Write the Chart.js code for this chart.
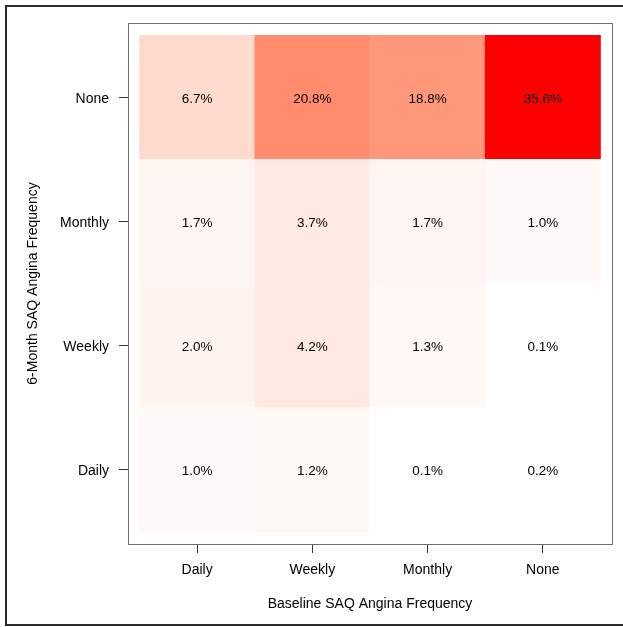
<!DOCTYPE html>
<html>
<head>
<meta charset="utf-8">
<script src="https://cdn.jsdelivr.net/npm/chart.js@4/dist/chart.umd.min.js"></script>
<style>
  html, body { margin: 0; padding: 0; background: #fff; overflow: hidden; }
  canvas { display: block; }
</style>
</head>
<body>
<canvas id="c" width="623" height="627"></canvas>
<script>
// Frequency levels: baseline on the x axis (left to right), 6-month on the y axis (bottom to top)
const baselineLevels = ['Daily', 'Weekly', 'Monthly', 'None'];
const followupLevels = ['Daily', 'Weekly', 'Monthly', 'None'];

// Percent of patients in each 6-month level, ordered by baseline level
const pctDaily   = [1.0, 1.2, 0.1, 0.2];
const pctWeekly  = [2.0, 4.2, 1.3, 0.1];
const pctMonthly = [1.7, 3.7, 1.7, 1.0];
const pctNone    = [6.7, 20.8, 18.8, 35.6];

const rows = [pctDaily, pctWeekly, pctMonthly, pctNone];
const maxPct = Math.max(...rows.flat());

// White-to-red ramp interpolated in CIE Lab
function srgbToLinear(c) { c /= 255; return c <= 0.04045 ? c / 12.92 : Math.pow((c + 0.055) / 1.055, 2.4); }
function linearToSrgb(c) { c = Math.max(0, Math.min(1, c)); return 255 * (c <= 0.0031308 ? 12.92 * c : 1.055 * Math.pow(c, 1 / 2.4) - 0.055); }
const WX = 0.95047, WY = 1.0, WZ = 1.08883;
function rgbToLab([r, g, b]) {
  const R = srgbToLinear(r), G = srgbToLinear(g), B = srgbToLinear(b);
  const X = (0.4124 * R + 0.3576 * G + 0.1805 * B) / WX;
  const Y = (0.2126 * R + 0.7152 * G + 0.0722 * B) / WY;
  const Z = (0.0193 * R + 0.1192 * G + 0.9505 * B) / WZ;
  const f = t => t > 0.008856 ? Math.cbrt(t) : 7.787 * t + 16 / 116;
  const fx = f(X), fy = f(Y), fz = f(Z);
  return [116 * fy - 16, 500 * (fx - fy), 200 * (fy - fz)];
}
function labToRgb([L, a, b]) {
  const fy = (L + 16) / 116, fx = fy + a / 500, fz = fy - b / 200;
  const inv = t => t * t * t > 0.008856 ? t * t * t : (t - 16 / 116) / 7.787;
  const X = inv(fx) * WX, Y = inv(fy) * WY, Z = inv(fz) * WZ;
  const R = 3.2406 * X - 1.5372 * Y - 0.4986 * Z;
  const G = -0.9689 * X + 1.8758 * Y + 0.0415 * Z;
  const B = 0.0557 * X - 0.2040 * Y + 1.0570 * Z;
  return [linearToSrgb(R), linearToSrgb(G), linearToSrgb(B)].map(Math.round);
}
const labLow = rgbToLab([255, 255, 255]);
const labHigh = rgbToLab([255, 0, 0]);
function heat(v) {
  const t = v / maxPct;
  const lab = labLow.map((c, i) => c + (labHigh[i] - c) * t);
  const [r, g, b] = labToRgb(lab);
  return `rgb(${r},${g},${b})`;
}

// One floating-bar dataset per 6-month level; each bar spans one row of the grid
const datasets = rows.map((vals, r) => ({
  label: followupLevels[r],
  data: vals.map((v, c) => ({ x: c + 1, y: [r + 0.5, r + 1.5], pct: v })),
  backgroundColor: vals.map(heat),
  borderWidth: 0,
  grouped: false,
  barPercentage: 1,
  categoryPercentage: 1
}));

const FONT = "'Liberation Sans', Arial, Helvetica, sans-serif";

const cellLabels = {
  id: 'cellLabels',
  afterDatasetsDraw(chart) {
    const ctx = chart.ctx;
    ctx.save();
    ctx.font = `13.5px ${FONT}`;
    ctx.fillStyle = '#000';
    ctx.textAlign = 'center';
    ctx.textBaseline = 'middle';
    chart.data.datasets.forEach((ds, di) => {
      chart.getDatasetMeta(di).data.forEach((el, i) => {
        const cy = (el.y + el.base) / 2 + 2;
        ctx.fillText(ds.data[i].pct.toFixed(1) + '%', el.x, cy);
      });
    });
    ctx.restore();
  }
};

const plotBox = {
  id: 'plotBox',
  afterDraw(chart) {
    const { left, top, right, bottom } = chart.chartArea;
    const ctx = chart.ctx;
    ctx.save();
    ctx.strokeStyle = '#6e6e6e';
    ctx.lineWidth = 1;
    ctx.strokeRect(Math.round(left) + 0.5, Math.round(top) + 0.5, Math.round(right - left), Math.round(bottom - top));
    // outer panel frame
    ctx.strokeStyle = '#2b2b2b';
    ctx.lineWidth = 2;
    ctx.beginPath();
    ctx.moveTo(chart.width + 5, 6);
    ctx.lineTo(6, 6);
    ctx.lineTo(6, 625);
    ctx.lineTo(chart.width + 5, 625);
    ctx.stroke();
    ctx.restore();
  }
};

new Chart(document.getElementById('c'), {
  type: 'bar',
  data: { datasets },
  options: {
    responsive: false,
    animation: false,
    layout: { padding: { top: 23, right: 11, left: 0, bottom: 0 } },
    plugins: { legend: { display: false }, tooltip: { enabled: false } },
    scales: {
      x: {
        type: 'linear',
        min: 0.4,
        max: 4.6,
        offset: false,
        afterBuildTicks: s => { s.ticks = baselineLevels.map((_, i) => ({ value: i + 1 })); },
        afterFit: s => { s.height = 83; },
        ticks: {
          callback: v => baselineLevels[v - 1],
          font: { family: FONT, size: 14 },
          color: '#000',
          padding: 9,
          maxRotation: 0,
          autoSkip: false
        },
        grid: { offset: false, drawOnChartArea: false, drawTicks: true, tickLength: 9, color: '#333' },
        border: { display: false },
        title: {
          display: true,
          text: 'Baseline SAQ Angina Frequency',
          font: { family: FONT, size: 14 },
          color: '#000',
          padding: { top: 4, bottom: 14 }
        }
      },
      y: {
        type: 'linear',
        min: 0.4,
        max: 4.6,
        afterBuildTicks: s => { s.ticks = followupLevels.map((_, i) => ({ value: i + 1 })); },
        afterFit: s => { s.width = 128; },
        ticks: {
          callback: v => followupLevels[v - 1],
          font: { family: FONT, size: 14 },
          color: '#000',
          padding: 10,
          labelOffset: 2,
          autoSkip: false
        },
        grid: { drawOnChartArea: false, drawTicks: true, tickLength: 9, color: '#333' },
        border: { display: false },
        title: {
          display: true,
          text: '6-Month SAQ Angina Frequency',
          font: { family: FONT, size: 14 },
          color: '#000',
          padding: { top: 25, bottom: 0 }
        }
      }
    }
  },
  plugins: [cellLabels, plotBox]
});
</script>
</body>
</html>
